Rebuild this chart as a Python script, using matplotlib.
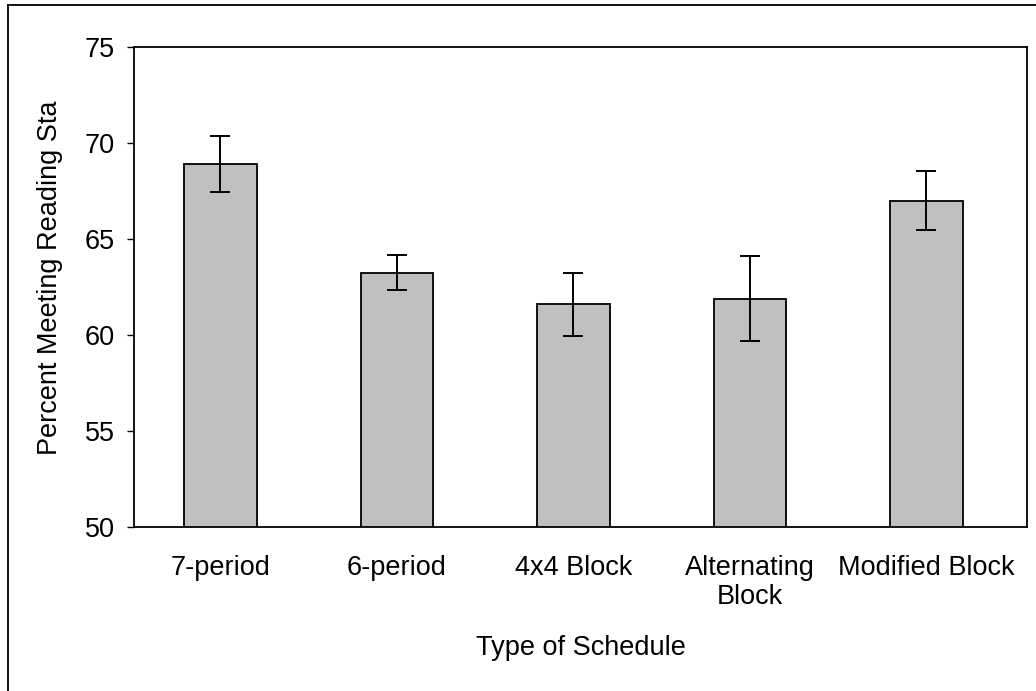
import matplotlib
matplotlib.use("Agg")
import matplotlib.pyplot as plt
from matplotlib.lines import Line2D

# data
schedules = ["7-period", "6-period", "4x4 Block", "Alternating\nBlock", "Modified Block"]
percent = [68.9, 63.25, 61.6, 61.9, 67.0]
errors = [1.45, 0.93, 1.65, 2.2, 1.55]
yticks = [50, 55, 60, 65, 70, 75]

plt.rcParams['font.family'] = ['Liberation Sans', 'DejaVu Sans']

fig = plt.figure(figsize=(10.36, 6.91), dpi=100)
ax = fig.add_axes([0.1293, 0.2373, 0.862, 0.6947])

x = list(range(len(schedules)))
ax.bar(x, percent, width=0.41, color="#c0c0c0", edgecolor="black", linewidth=1.3,
       yerr=errors, capsize=7.5,
       error_kw=dict(ecolor="black", elinewidth=1.4, capthick=1.4), zorder=2)

ax.set_ylim(50, 75)
ax.set_xlim(-0.49, 4.57)
ax.set_yticks(yticks)
ax.set_xticks(x)
ax.set_xticklabels(schedules, fontsize=19.5, linespacing=1.15)
ax.tick_params(axis='y', labelsize=19.5, length=5, width=1.0, pad=9, direction='out')
ax.tick_params(axis='x', length=0, pad=20)
for s in ax.spines.values():
    s.set_linewidth(1.3)

ax.set_ylabel("Percent Meeting Reading Sta", fontsize=19.5)
ax.yaxis.set_label_coords(-0.079, 0.52)
ax.set_xlabel("Type of Schedule", fontsize=19.5, labelpad=18)

# outer frame (only top and left visible in the cropped original)
fig.add_artist(Line2D([7.5 / 1036, 7.5 / 1036], [0, 1 - 5 / 691],
                      transform=fig.transFigure, color="black", linewidth=1.3))
fig.add_artist(Line2D([7.5 / 1036, 1], [1 - 5 / 691, 1 - 5 / 691],
                      transform=fig.transFigure, color="black", linewidth=1.3))

fig.savefig("out.png", dpi=100)
